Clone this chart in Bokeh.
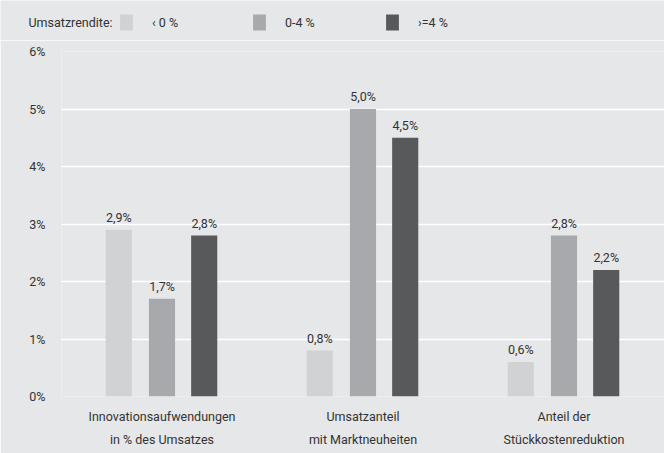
from bokeh.plotting import figure
from bokeh.layouts import column
from bokeh.models import (ColumnDataSource, FactorRange, Range1d, FixedTicker, Legend,
                          LegendItem, Label)
from bokeh.transform import dodge
from bokeh.core.properties import value
from bokeh.embed import file_html
from bokeh.resources import INLINE

categories = ["Innovationsaufwendungen\nin % des Umsatzes",
              "Umsatzanteil\nmit Marktneuheiten",
              "Anteil der\nStückkostenreduktion"]
series_names = ["‹ 0 %", "0-4 %", "›=4 %"]
lt0 = [2.9, 0.8, 0.6]
mid = [1.7, 5.0, 2.8]
ge4 = [2.8, 4.5, 2.2]
y_ticks = [0, 1, 2, 3, 4, 5, 6]
legend_title = "Umsatzrendite:"

colors = ["#d1d2d4", "#a7a9ac", "#58595b"]
FONT = "Roboto"
FS = "12.5px"
TXT = "#333333"
BG = "#e6e7e8"

def fmt(v):
    return f"{v:.1f}%".replace(".", ",")

src = ColumnDataSource(dict(
    cat=categories,
    s0=lt0, s1=mid, s2=ge4,
    l0=[fmt(v) for v in lt0], l1=[fmt(v) for v in mid], l2=[fmt(v) for v in ge4],
))

xr = FactorRange(*categories)
offsets = [-0.215, 0.0, 0.21]

# ---- main chart
p = figure(width=664, height=413, x_range=xr, y_range=Range1d(0, 6),
           output_backend="svg", toolbar_location=None,
           min_border_left=61, min_border_right=0, min_border_top=11,
           min_border_bottom=57)
p.background_fill_color = BG
p.border_fill_color = BG
p.outline_line_color = None

for i, off in enumerate(offsets):
    p.vbar(x=dodge("cat", off, range=xr), top=f"s{i}", width=0.13,
           source=src, fill_color=colors[i], line_color=None)
    p.text(x=dodge("cat", off, range=xr), y=f"s{i}", text=f"l{i}", source=src,
           y_offset=-5, text_align="center", text_baseline="bottom",
           text_font=value(FONT), text_font_size=FS, text_color=TXT)

p.xgrid.grid_line_color = None
p.ygrid.grid_line_color = "white"
p.ygrid.grid_line_width = 1.5
p.yaxis.ticker = FixedTicker(ticks=y_ticks)
p.yaxis.major_label_overrides = {t: f"{t}%" for t in y_ticks}

for ax in (p.xaxis, p.yaxis):
    ax.axis_line_color = None
    ax.major_tick_line_color = None
    ax.minor_tick_line_color = None
    ax.major_label_text_font = FONT
    ax.major_label_text_font_size = FS
    ax.major_label_text_color = TXT
p.yaxis.major_label_standoff = 10
p.xaxis.major_label_standoff = 6
p.xaxis.major_label_text_line_height = 1.55

# ---- legend strip (own figure, frame spans the full strip)
lp = figure(frame_width=664, frame_height=40, x_range=xr, y_range=Range1d(0, 1),
            output_backend="svg", toolbar_location=None,
            x_axis_location=None, y_axis_location=None, min_border=0,
            min_border_left=0, min_border_right=0, min_border_top=0, min_border_bottom=0)
lp.background_fill_color = BG
lp.border_fill_color = BG
lp.outline_line_color = None
lp.grid.visible = False

leg_x = [118, 251, 384]
for i, off in enumerate(offsets):
    r = lp.vbar(x=dodge("cat", off, range=xr), top=f"s{i}", width=0.13,
                source=src, fill_color=colors[i], line_color=None, visible=False)
    lg = Legend(items=[LegendItem(label=series_names[i], renderers=[r])],
                location=(leg_x[i], 8), padding=0, margin=0, spacing=0,
                glyph_width=16, glyph_height=20, label_height=20, label_width=10,
                label_standoff=18, border_line_color=None,
                background_fill_alpha=0, label_text_font=FONT,
                label_text_font_size=FS, label_text_color=TXT,
                label_text_baseline="middle")
    lp.add_layout(lg, "center")

lp.add_layout(Label(x=28, y=18, x_units="screen", y_units="screen", text=legend_title,
                    text_font=FONT, text_font_size=FS, text_color=TXT,
                    text_baseline="middle"))

layout = column(column(lp), p, spacing=0)
open("out.html", "w").write(file_html(layout, INLINE))
